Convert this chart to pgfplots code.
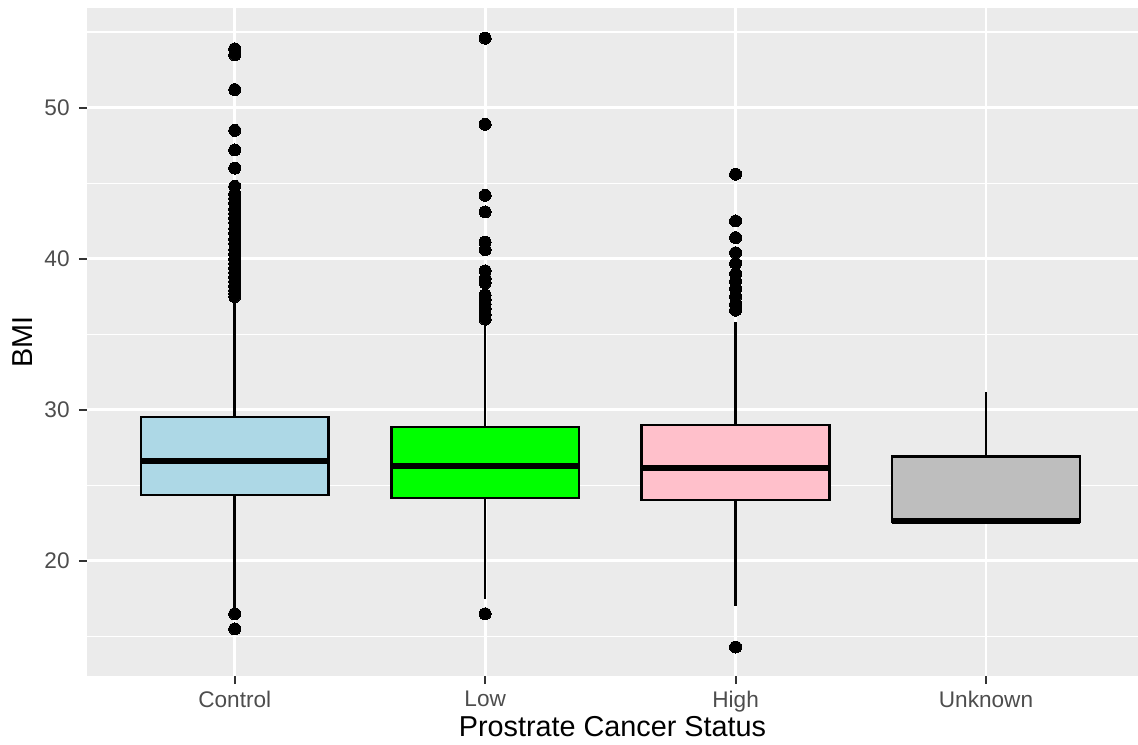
\documentclass[border=0pt]{standalone}
\usepackage{pgfplots}
\pgfplotsset{compat=1.18}
\usepgfplotslibrary{statistics}
\usepackage{fontspec}
\setmainfont{Liberation Sans}
\definecolor{panelbg}{RGB}{235,235,235}
\definecolor{ticklab}{RGB}{77,77,77}
\definecolor{tickcol}{RGB}{51,51,51}
\definecolor{cLightBlue}{RGB}{173,216,230}
\definecolor{cGreen}{RGB}{0,255,0}
\definecolor{cPink}{RGB}{255,192,203}
\definecolor{cGray}{RGB}{190,190,190}
\begin{document}
\begin{tikzpicture}
\useasboundingbox (-43.5pt,-34pt) rectangle (525.5pt,338pt);
\begin{axis}[
  at={(0,0)}, anchor=south west,
  scale only axis, width=525.5pt, height=334pt,
  xmin=0.41, xmax=4.607, ymin=12.38, ymax=56.6,
  axis background/.style={fill=panelbg},
  axis line style={draw=none},
  xtick={1,2,3,4}, xticklabels={Control,Low,High,Unknown},
  ytick={20,30,40,50}, minor ytick={15,25,35,45,55},
  xmajorgrids, ymajorgrids, yminorgrids,
  major grid style={white, line width=1.4pt},
  minor grid style={white, line width=0.7pt},
  tick pos=left, tick align=outside,
  major tick length=4pt, minor tick length=0pt,
  every tick/.style={tickcol, line width=1pt},
  /pgf/number format/assume math mode=true,
  tick label style={font=\fontsize{11.3}{13}\selectfont, text=ticklab},
  yticklabel style={inner sep=0pt, anchor=east, xshift=-4.5pt},
  xticklabel style={inner sep=0pt, anchor=north, yshift=-3.5pt},
  xlabel={Prostrate Cancer Status},
  ylabel={BMI},
  every axis x label/.style={at={(axis description cs:0.5,-0.0913)}, anchor=base, font=\fontsize{14.4}{16}\selectfont},
  every axis y label/.style={at={(axis description cs:-0.0514,0.5)}, rotate=90, anchor=base, font=\fontsize{14.4}{16}\selectfont},
  boxplot/draw direction=y,
]
% Control
\addplot+[boxplot prepared={draw position=1, box extend=0.75,
  lower whisker=16.9, lower quartile=24.37, median=26.62, upper quartile=29.54, upper whisker=37.3,
  whisker extend=0, every median/.style={line width=2.8pt}},
  solid, draw=black, line width=1.25pt, fill=cLightBlue, mark=*, mark size=3pt, mark options={draw=black, fill=black, line width=0pt}]
table[row sep=\\, y index=0] {53.9\\ 53.5\\ 51.2\\ 48.5\\ 47.2\\ 46.0\\ 44.8\\ 44.3\\ 44.0\\ 43.7\\
 43.3\\ 43.0\\ 42.7\\ 42.4\\ 42.0\\ 41.7\\ 41.3\\ 41.0\\ 40.6\\ 40.3\\
 40.0\\ 39.7\\ 39.4\\ 39.1\\ 38.8\\ 38.5\\ 38.2\\ 37.9\\ 37.7\\ 37.5\\
 16.5\\ 15.5\\};
% Low
\addplot+[boxplot prepared={draw position=2, box extend=0.75,
  lower whisker=17.5, lower quartile=24.17, median=26.29, upper quartile=28.87, upper whisker=35.8,
  whisker extend=0, every median/.style={line width=2.8pt}},
  solid, draw=black, line width=1.25pt, fill=cGreen, mark=*, mark size=3pt, mark options={draw=black, fill=black, line width=0pt}]
table[row sep=\\, y index=0] {54.6\\ 48.9\\ 44.2\\ 43.1\\ 41.1\\ 40.6\\ 39.2\\ 38.7\\ 38.4\\
 37.6\\ 37.3\\ 37.0\\ 36.7\\ 36.3\\ 36.0\\ 16.5\\};
% High
\addplot+[boxplot prepared={draw position=3, box extend=0.75,
  lower whisker=17.0, lower quartile=24.04, median=26.16, upper quartile=29.0, upper whisker=35.8,
  whisker extend=0, every median/.style={line width=2.8pt}},
  solid, draw=black, line width=1.25pt, fill=cPink, mark=*, mark size=3pt, mark options={draw=black, fill=black, line width=0pt}]
table[row sep=\\, y index=0] {45.6\\ 42.5\\ 41.4\\ 40.4\\ 39.7\\ 39.0\\ 38.5\\ 38.0\\ 37.5\\
 37.0\\ 36.6\\ 14.3\\};
% Unknown
\addplot+[boxplot prepared={draw position=4, box extend=0.75,
  lower whisker=22.6, lower quartile=22.6, median=22.65, upper quartile=26.9, upper whisker=31.15,
  whisker extend=0, every median/.style={line width=2.8pt}},
  solid, draw=black, line width=1.25pt, fill=cGray, mark=none]
coordinates {};
\end{axis}
\end{tikzpicture}
\end{document}
